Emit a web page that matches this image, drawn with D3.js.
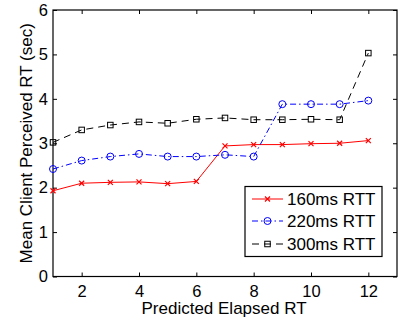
<!DOCTYPE html>
<html><head><meta charset="utf-8">
<script src="https://cdn.jsdelivr.net/npm/d3@7"></script>
<style>body{margin:0;background:#fff}svg{display:block;font-family:"Liberation Sans",Arial,sans-serif}</style>
</head><body><svg id="c" width="401" height="322"></svg>
<script>
const xs = [1,2,3,4,5,6,7,8,9,10,11,12];
const rtt160 = [1.93,2.10,2.12,2.13,2.09,2.14,2.94,2.97,2.97,2.99,3.00,3.06];
const rtt220 = [2.42,2.61,2.70,2.76,2.70,2.70,2.74,2.70,3.88,3.88,3.88,3.96];
const rtt300 = [3.02,3.30,3.41,3.48,3.45,3.54,3.57,3.53,3.53,3.54,3.53,5.03];
const seriesNames = ["160ms RTT","220ms RTT","300ms RTT"];
const xTicks = [2,4,6,8,10,12];
const yTicks = [0,1,2,3,4,5,6];
const xLabel = "Predicted Elapsed RT";
const yLabel = "Mean Client Perceived RT (sec)";

const svg = d3.select("#c");
const L=53, R=397, T=10, B=276.5;
const x = d3.scaleLinear().domain([1,13]).range([L,R]);
const y = d3.scaleLinear().domain([0,6]).range([B,T]);

const styles = [
  {color:"#ff0000", dash:null, marker:"x"},
  {color:"#0000ff", dash:"6,3,1.5,3", marker:"o"},
  {color:"#000000", dash:"7,5", marker:"s"}
];
const data = [rtt160, rtt220, rtt300];

const tickFmt = d3.format("d");
const axB = d3.axisBottom(x).tickValues(xTicks).tickSize(-4).tickPadding(9).tickFormat(tickFmt);
const axL = d3.axisLeft(y).tickValues(yTicks).tickSize(-4).tickPadding(5).tickFormat(tickFmt);
const axT = d3.axisTop(x).tickValues(xTicks).tickSize(-4).tickFormat("");
const axR = d3.axisRight(y).tickValues(yTicks).tickSize(-4).tickFormat("");
function styleAx(g){g.select(".domain").remove();g.selectAll("line").attr("stroke","#000");g.selectAll("text").attr("font-size",16.5).attr("fill","#000").attr("font-family","Liberation Sans, Arial, sans-serif");}
svg.append("g").attr("transform",`translate(0,${B})`).call(axB).call(styleAx);
svg.append("g").attr("transform",`translate(${L},0)`).call(axL).call(styleAx);
svg.append("g").attr("transform",`translate(0,${T})`).call(axT).call(styleAx);
svg.append("g").attr("transform",`translate(${R},0)`).call(axR).call(styleAx);
svg.append("rect").attr("x",L).attr("y",T).attr("width",R-L).attr("height",B-T).attr("fill","none").attr("stroke","#000").attr("stroke-width",1.2);

svg.append("text").attr("x",(L+R)/2 - 1).attr("y",314).attr("text-anchor","middle").attr("font-size",17).text(xLabel);
svg.append("text").attr("transform",`translate(32,${(T+B)/2}) rotate(-90)`).attr("text-anchor","middle").attr("font-size",17).text(yLabel);

function marker(g, type, cx, cy, color){
  if(type==="x"){
    g.append("path").attr("d",`M${cx-2.5},${cy-2.5}L${cx+2.5},${cy+2.5}M${cx-2.5},${cy+2.5}L${cx+2.5},${cy-2.5}`).attr("stroke",color).attr("stroke-width",1.2);
  } else if(type==="o"){
    g.append("circle").attr("cx",cx).attr("cy",cy).attr("r",3.5).attr("fill","none").attr("stroke",color).attr("stroke-width",1);
  } else {
    g.append("rect").attr("x",cx-2.75).attr("y",cy-2.75).attr("width",5.5).attr("height",5.5).attr("fill","none").attr("stroke",color).attr("stroke-width",1);
  }
}

const line = d3.line().x((d,i)=>x(xs[i])).y(d=>y(d));
data.forEach((vals,k)=>{
  const s=styles[k];
  const g=svg.append("g");
  g.append("path").attr("d",line(vals)).attr("fill","none").attr("stroke",s.color).attr("stroke-width",1).attr("stroke-dasharray",s.dash);
  vals.forEach((v,i)=>marker(g,s.marker,x(xs[i]),y(v),s.color));
});

const lg = svg.append("g");
lg.append("rect").attr("x",245).attr("y",186.5).attr("width",137).attr("height",70).attr("fill","#fff").attr("stroke","#000").attr("stroke-width",1.2);
const rowsY=[199,221,244];
styles.forEach((s,k)=>{
  lg.append("line").attr("x1",252).attr("x2",283).attr("y1",rowsY[k]).attr("y2",rowsY[k]).attr("stroke",s.color).attr("stroke-width",1).attr("stroke-dasharray",s.dash);
  marker(lg,s.marker,267.5,rowsY[k],s.color);
  lg.append("text").attr("x",287).attr("y",rowsY[k]+6).attr("font-size",17).text(seriesNames[k]);
});
</script></body></html>
